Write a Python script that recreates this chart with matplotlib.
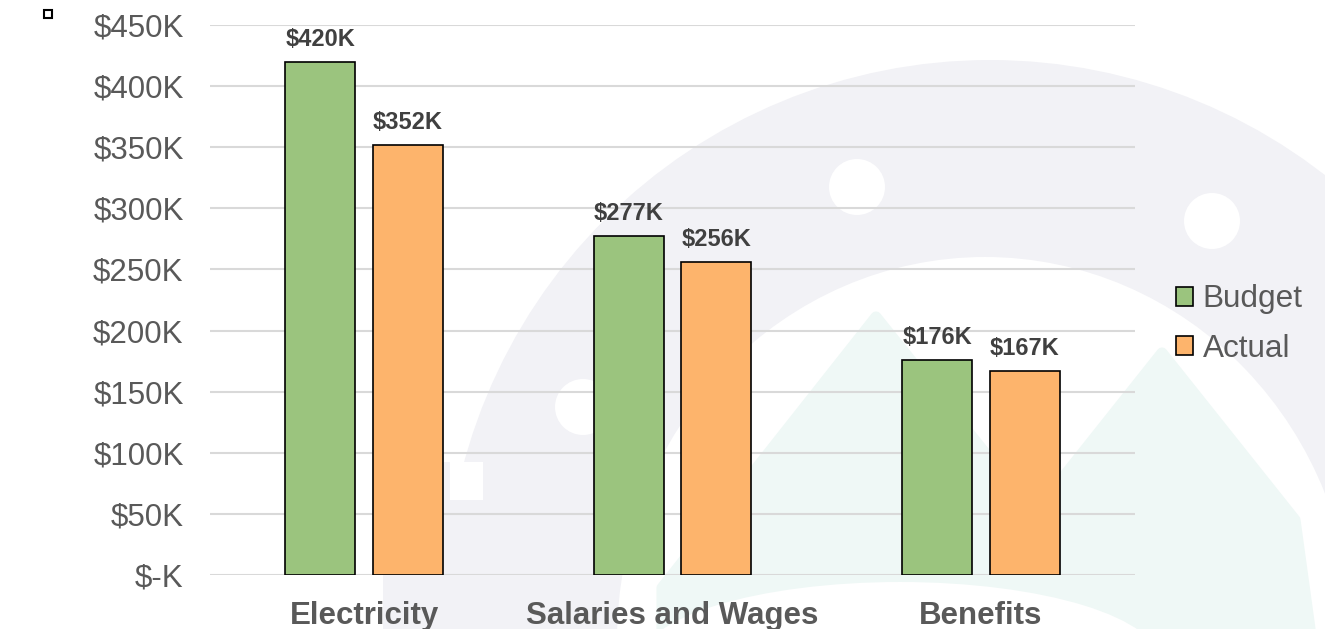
import matplotlib
matplotlib.use('Agg')
import matplotlib.pyplot as plt
import matplotlib.patches as mpatches
import numpy as np

plt.rcParams['font.family'] = ['Liberation Sans', 'DejaVu Sans']

# data
categories = ['Electricity', 'Salaries and Wages', 'Benefits']
budget = [420000, 277000, 176000]
actual = [352000, 256000, 167000]
series_names = ['Budget', 'Actual']
bar_labels_budget = ['$420K', '$277K', '$176K']
bar_labels_actual = ['$352K', '$256K', '$167K']
ytick_values = [0, 50000, 100000, 150000, 200000, 250000, 300000, 350000, 400000, 450000]
ytick_labels = ['$-K', '$50K', '$100K', '$150K', '$200K', '$250K', '$300K', '$350K', '$400K', '$450K']

green = '#9BC47E'
orange = '#FDB46C'
text_gray = '#595959'

fig = plt.figure(figsize=(13.25, 6.29), dpi=100)

# faint logo watermark behind the chart (pixel coords)
bg = fig.add_axes([0, 0, 1, 1], zorder=0)
bg.set_xlim(0, 1325)
bg.set_ylim(629, 0)
bg.axis('off')
ring = '#F2F2F6'
mint = '#EFF8F6'
bg.add_patch(mpatches.Circle((990, 605), 545, color=ring, lw=0))
bg.add_patch(mpatches.Rectangle((383, 462), 80, 200, color=ring, lw=0))
bg.add_patch(mpatches.Ellipse((985, 640), 736, 766, color='white', lw=0))
bg.add_patch(mpatches.Polygon([(662, 588), (876, 317), (1034, 514), (1162, 353),
                               (1295, 520), (1310, 629), (662, 629)],
                              closed=True, facecolor=mint, edgecolor=mint,
                              lw=8, joinstyle='round'))
bg.add_patch(mpatches.Ellipse((900, 662), 520, 160, color='white', lw=0))
bg.add_patch(mpatches.Rectangle((450, 462), 33, 38, color='white', lw=0))
for cx, cy in [(857, 187), (1212, 221), (583, 407)]:
    bg.add_patch(mpatches.Circle((cx, cy), 28, color='white', lw=0))
bg.add_patch(mpatches.Rectangle((44, 10), 8, 8, facecolor='white', edgecolor='black', lw=1.5))

ax = fig.add_axes([210 / 1325, 54 / 629, 925 / 1325, 550 / 629], zorder=1)
ax.patch.set_alpha(0)

x = np.arange(len(categories))
w = 0.227
off = 0.142
b1 = ax.bar(x - off, budget, w, color=green, edgecolor='black', linewidth=1.2, label=series_names[0], zorder=3)
b2 = ax.bar(x + off, actual, w, color=orange, edgecolor='black', linewidth=1.2, label=series_names[1], zorder=3)

for rect, lab in zip(b1, bar_labels_budget):
    ax.annotate(lab, (rect.get_x() + rect.get_width() / 2, rect.get_height()),
                xytext=(0, 8), textcoords='offset points', ha='center', va='bottom',
                fontsize=17, fontweight='bold', color='#404040')
for rect, lab in zip(b2, bar_labels_actual):
    ax.annotate(lab, (rect.get_x() + rect.get_width() / 2, rect.get_height()),
                xytext=(0, 8), textcoords='offset points', ha='center', va='bottom',
                fontsize=17, fontweight='bold', color='#404040')

ax.set_xlim(-0.5, 2.5)
ax.set_ylim(0, 450000)
ax.set_yticks(ytick_values)
ax.set_yticklabels(ytick_labels)
ax.set_xticks(x)
ax.set_xticklabels(categories, fontweight='bold')
ax.tick_params(axis='y', length=0, pad=19, labelsize=22.5, labelcolor=text_gray)
ax.tick_params(axis='x', length=0, pad=18.5, labelsize=22.5, labelcolor=text_gray)
ax.grid(axis='y', color='#D9D9D9', linewidth=1.5, zorder=0)
ax.set_axisbelow(True)
for s in ax.spines.values():
    s.set_visible(False)

leg = fig.legend(handles=[b1, b2], labels=series_names, loc='center left',
                 bbox_to_anchor=(1176 / 1325, 1 - 324 / 629), frameon=False,
                 fontsize=22.7, handlelength=0.55, handleheight=0.55,
                 handletextpad=0.3, labelspacing=0.62, borderpad=0, borderaxespad=0)
for t in leg.get_texts():
    t.set_color(text_gray)

fig.savefig('out.png', dpi=100)
